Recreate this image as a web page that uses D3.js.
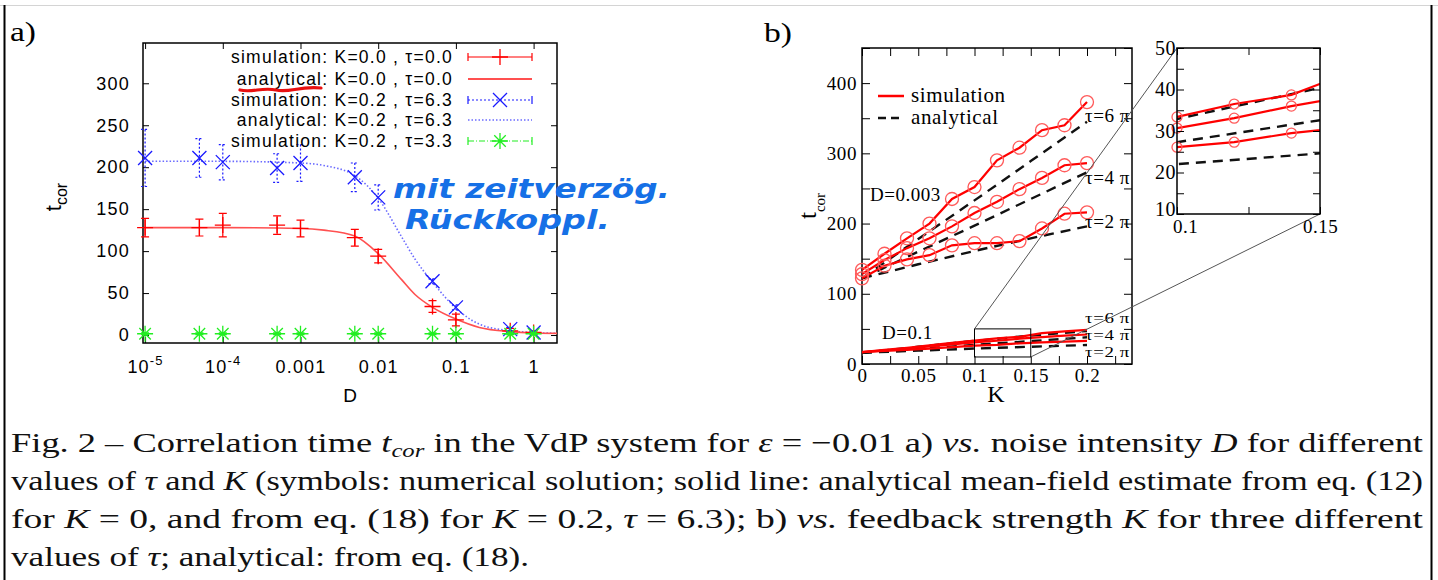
<!DOCTYPE html>
<html>
<head>
<meta charset="utf-8">
<script src="https://cdn.jsdelivr.net/npm/d3@7"></script>
<style>
body { margin: 0; background: #fff; }
</style>
</head>
<body>
<script>
// ---- panel a: t_cor vs noise intensity D ----
var dVals = [1e-5, 5e-5, 1e-4, 5e-4, 0.001, 0.005, 0.01, 0.05, 0.1, 0.5, 1]
var simK0Tau0 = [128, 128, 131, 131, 127, 116, 94, 34, 18, 5, 3]
var simK0Tau0Err = [11, 10, 14, 11, 10, 10, 8, 7, 7, 3, 2]
var simK02Tau63 = [211, 211, 206, 199, 205, 188, 164, 64, 33, 7, 3]
var simK02Tau63Err = [34, 23, 21, 17, 22, 17, 15, 3, 3, 2, 1]
var simK02Tau33 = [1.5, 1.5, 1.5, 1.5, 1.5, 1.5, 1.5, 1.5, 1.5, 1.5, 1.5]
var simK02Tau33Err = [1, 1, 1, 1, 1, 1, 1, 1, 1, 1, 1]

var anaD = [1e-5, 1e-4, 0.001, 0.002, 0.005, 0.01, 0.02, 0.03, 0.05, 0.1, 0.2, 0.5, 1, 2]
var anaK0Tau0 = [128, 128, 127, 125, 118, 97, 66, 48, 33, 19, 9, 4, 2.5, 2]
var anaK02Tau63 = [207, 207, 205, 202, 190, 163, 117, 90, 63, 32, 13, 5, 3, 2]

var xTicksA = [1e-5, 1e-4, 0.001, 0.01, 0.1, 1]
var xLabelsA = ["10^-5", "10^-4", "0.001", "0.01", "0.1", "1"]
var yTicksA = [0, 50, 100, 150, 200, 250, 300]
var legendA = ["simulation: K=0.0 , \u03c4=0.0", "analytical: K=0.0 , \u03c4=0.0",
               "simulation: K=0.2 , \u03c4=6.3", "analytical: K=0.2 , \u03c4=6.3",
               "simulation: K=0.2 , \u03c4=3.3"]

// ---- panel b: t_cor vs feedback strength K ----
var kVals = [0, 0.02, 0.04, 0.06, 0.08, 0.1, 0.12, 0.14, 0.16, 0.18, 0.2]
var simD003Tau6 = [134, 157, 179, 200, 235, 252, 290, 308, 333, 340, 373]
var simD003Tau4 = [128, 148, 165, 179, 196, 215, 231, 249, 265, 283, 286]
var simD003Tau2 = [122, 140, 149, 155, 169, 172, 172, 175, 193, 214, 216]
var simD01Tau6 = [17, 20, 23, 26.5, 30, 33.4, 36.5, 38.7, 44, 46.5, 48.5]
var simD01Tau4 = [17, 19.5, 22, 25, 28, 30.7, 33.1, 36, 38.4, 40.5, 42]
var simD01Tau2 = [17, 18.5, 20, 22, 24, 26.1, 27.3, 29.5, 30.9, 32, 33]

var kAna = [0, 0.05, 0.1, 0.15, 0.2]
var anaD003Tau6 = [122, 178, 233, 289, 345]
var anaD003Tau4 = [122, 160, 197, 235, 273]
var anaD003Tau2 = [122, 142, 161, 179, 196]
var anaD01Tau6 = [16, 24.5, 32.9, 40.4, 47]
var anaD01Tau4 = [16, 21.5, 27.3, 32.6, 38]
var anaD01Tau2 = [16, 19, 22, 24.6, 27]

var tauLabels = ["\u03c4=6 \u03c0", "\u03c4=4 \u03c0", "\u03c4=2 \u03c0"]

var svg = d3.select("body").append("svg")
    .attr("width", 1438)
    .attr("height", 580)

// page frame
svg.append("line").attr("x1", 0).attr("x2", 1438).attr("y1", 5.5).attr("y2", 5.5)
    .attr("stroke", "#d4d4d4").attr("stroke-width", 1)
svg.append("line").attr("x1", 4.5).attr("x2", 4.5).attr("y1", 5).attr("y2", 580)
    .attr("stroke", "#000").attr("stroke-width", 2)
svg.append("line").attr("x1", 1431.5).attr("x2", 1431.5).attr("y1", 5).attr("y2", 580)
    .attr("stroke", "#000").attr("stroke-width", 2)

var serif = "Liberation Serif"
var sans = "Liberation Sans"

var markerPath = function(type, s)
{
    if (type == "plus") return "M" + (-s) + ",0H" + s + "M0," + (-s) + "V" + s
    if (type == "x") return "M" + (-s) + "," + (-s) + "L" + s + "," + s + "M" + (-s) + "," + s + "L" + s + "," + (-s)
    var d = s * 0.72
    return "M" + (-s) + ",0H" + s + "M0," + (-s) + "V" + s +
        "M" + (-d) + "," + (-d) + "L" + d + "," + d + "M" + (-d) + "," + d + "L" + d + "," + (-d)
}

var cleanAxis = function(g, font, size, spacing)
{
    g.select(".domain").remove()
    g.selectAll(".tick line").attr("stroke", "#000").attr("stroke-width", 1)
    g.attr("font-family", font).attr("font-size", size)
    g.selectAll("text").attr("fill", "#000").style("letter-spacing", spacing + "px")
}

// ================= panel a =================
var setupA = function()
{
    var box = {left: 143, top: 43, right: 557, bottom: 343}

    var xScale = d3.scaleLog().domain([9.4e-6, 2]).range([box.left, box.right])
    var yScale = d3.scaleLinear().domain([-9.5, 348]).range([box.bottom, box.top])

    svg.append("text").attr("x", 10).attr("y", 41).attr("textLength", 26).attr("lengthAdjust", "spacingAndGlyphs")
        .attr("font-family", serif).attr("font-size", 28).text("a)")

    var xAxis = d3.axisBottom(xScale).tickValues(xTicksA)
        .tickFormat(function(d, i) { return xLabelsA[i] })
        .tickSizeInner(-6).tickSizeOuter(0).tickPadding(17)
    var gx = svg.append("g").attr("transform", "translate(0," + box.bottom + ")").call(xAxis)
    cleanAxis(gx, sans, 18, 1.2)
    gx.selectAll("text").each(function(d, i)
    {
        var lab = xLabelsA[i]
        if (lab.indexOf("^") >= 0)
        {
            var parts = lab.split("^")
            var t = d3.select(this).text(parts[0])
            t.append("tspan").attr("dy", -8).attr("font-size", 13).text(parts[1])
        }
    })

    var gxt = svg.append("g").attr("transform", "translate(0," + box.top + ")")
        .call(d3.axisTop(xScale).tickValues(xTicksA).tickFormat("").tickSizeInner(-6).tickSizeOuter(0))
    cleanAxis(gxt, sans, 18, 0)

    var gy = svg.append("g").attr("transform", "translate(" + box.left + ",0)")
        .call(d3.axisLeft(yScale).tickValues(yTicksA).tickSizeInner(-6).tickSizeOuter(0).tickPadding(13))
    cleanAxis(gy, sans, 18, 1.2)

    var gyr = svg.append("g").attr("transform", "translate(" + box.right + ",0)")
        .call(d3.axisRight(yScale).tickValues(yTicksA).tickFormat("").tickSizeInner(-6).tickSizeOuter(0))
    cleanAxis(gyr, sans, 18, 0)

    svg.append("rect").attr("x", box.left).attr("y", box.top)
        .attr("width", box.right - box.left).attr("height", box.bottom - box.top)
        .attr("fill", "none").attr("stroke", "#000").attr("stroke-width", 1.5)

    // axis titles
    var yl = svg.append("text").attr("transform", "translate(61,197) rotate(-90)")
        .attr("text-anchor", "middle").attr("font-family", sans).attr("font-size", 22).text("t")
    yl.append("tspan").attr("font-size", 16).attr("dy", 6).text("cor")
    svg.append("text").attr("x", 350).attr("y", 402).attr("text-anchor", "middle")
        .attr("font-family", sans).attr("font-size", 19).text("D")

    var clip = svg.append("clipPath").attr("id", "clipA")
    clip.append("rect").attr("x", box.left).attr("y", box.top)
        .attr("width", box.right - box.left).attr("height", box.bottom - box.top)
    var plot = svg.append("g").attr("clip-path", "url(#clipA)")

    var curve = d3.line()
        .x(function(d) { return xScale(d[0]) })
        .y(function(d) { return yScale(d[1]) })
        .curve(d3.curveMonotoneX)

    plot.append("path").datum(anaD.map(function(d, i) { return [d, anaK02Tau63[i]] }))
        .attr("d", curve).attr("fill", "none").attr("stroke", "#6a6aff")
        .attr("stroke-width", 1.6).attr("stroke-dasharray", "1.5,2")
    plot.append("path").datum(anaD.map(function(d, i) { return [d, anaK0Tau0[i]] }))
        .attr("d", curve).attr("fill", "none").attr("stroke", "#ff5050").attr("stroke-width", 1.6)

    var series = [
        {vals: simK0Tau0, err: simK0Tau0Err, color: "#ff0000", mark: "plus", size: 8, dash: null},
        {vals: simK02Tau63, err: simK02Tau63Err, color: "#1a1aff", mark: "x", size: 7, dash: "2,2"},
        {vals: simK02Tau33, err: simK02Tau33Err, color: "#22ee22", mark: "star", size: 8, dash: null}
    ]
    series.forEach(function(s)
    {
        var g = svg.append("g")
        var pts = dVals.map(function(d, i) { return {x: xScale(d), y: yScale(s.vals[i]), lo: yScale(s.vals[i] - s.err[i]), hi: yScale(s.vals[i] + s.err[i])} })
        g.selectAll("path.err").data(pts).enter().append("path")
            .attr("d", function(p) { return "M" + (p.x - 4) + "," + p.hi + "H" + (p.x + 4) + "M" + p.x + "," + p.hi + "V" + p.lo + "M" + (p.x - 4) + "," + p.lo + "H" + (p.x + 4) })
            .attr("fill", "none").attr("stroke", s.color).attr("stroke-width", 1.2)
            .attr("stroke-dasharray", s.dash)
        g.selectAll("path.mk").data(pts).enter().append("path")
            .attr("transform", function(p) { return "translate(" + p.x + "," + p.y + ")" })
            .attr("d", markerPath(s.mark, s.size))
            .attr("fill", "none").attr("stroke", s.color).attr("stroke-width", 1.3)
    })

    // legend
    var rows = [57, 79, 100, 120, 141]
    var lg = svg.append("g").attr("font-family", sans).attr("font-size", 17.5)
    lg.selectAll("text").data(legendA).enter().append("text")
        .attr("x", 453).attr("y", function(d, i) { return rows[i] + 6 })
        .attr("text-anchor", "end").style("letter-spacing", "1.25px")
        .text(function(d) { return d })

    var sample = function(y, color, dash, caps, mark, size, width)
    {
        lg.append("line").attr("x1", 468).attr("x2", 532).attr("y1", y).attr("y2", y)
            .attr("stroke", color).attr("stroke-width", width).attr("stroke-dasharray", dash)
        if (caps)
        {
            lg.append("path").attr("d", "M468," + (y - 4) + "V" + (y + 4) + "M532," + (y - 4) + "V" + (y + 4))
                .attr("stroke", color).attr("stroke-width", 1.2)
            lg.append("path").attr("transform", "translate(500," + y + ")")
                .attr("d", markerPath(mark, size)).attr("fill", "none")
                .attr("stroke", color).attr("stroke-width", 1.3)
        }
    }
    sample(rows[0], "#ff0000", null, true, "plus", 8, 1.2)
    sample(rows[1], "#ff5050", null, false, null, 0, 1.8)
    sample(rows[2], "#1a1aff", "2,2", true, "x", 7, 1.2)
    sample(rows[3], "#8f8fff", "1.5,2", false, null, 0, 2)
    sample(rows[4], "#22ee22", "6,2,1,2", true, "star", 8, 1.2)

    // handwritten notes on the scan
    svg.append("path").attr("d", "M240,90 C252,93 262,87 276,90 S298,86 321,88")
        .attr("fill", "none").attr("stroke", "#e81010").attr("stroke-width", 3.2)
        .attr("stroke-linecap", "round")
    var note = svg.append("g").attr("font-family", "DejaVu Sans").attr("font-weight", "bold")
        .attr("font-style", "italic").attr("fill", "#1670e6").attr("font-size", 27)
    note.append("text").attr("x", 393).attr("y", 198).attr("textLength", 277)
        .attr("lengthAdjust", "spacingAndGlyphs").text("mit zeitverz\u00f6g.")
    note.append("text").attr("x", 405).attr("y", 229).attr("textLength", 205)
        .attr("lengthAdjust", "spacingAndGlyphs").text("R\u00fcckkoppl.")
}

// ================= panel b =================
var setupB = function()
{
    var box = {left: 862, top: 48, right: 1132, bottom: 364}
    var ibox = {left: 1177, top: 48, right: 1320, bottom: 214}

    var xScale = d3.scaleLinear().domain([0, 0.24]).range([box.left, box.right])
    var yScale = d3.scaleLinear().domain([0, 450]).range([box.bottom, box.top])
    var xIn = d3.scaleLinear().domain([0.1, 0.15]).range([ibox.left, ibox.right])
    var yIn = d3.scaleLinear().domain([10, 50]).range([ibox.bottom, ibox.top])

    svg.append("text").attr("x", 764).attr("y", 42).attr("textLength", 28).attr("lengthAdjust", "spacingAndGlyphs")
        .attr("font-family", serif).attr("font-size", 28).text("b)")

    var kTicks = d3.range(0, 0.23, 0.025)
    var fmtK = function(d) { var r = Math.round(d * 1000); return r % 50 == 0 ? String(r / 1000) : "" }
    var yTicks = d3.range(0, 451, 50)
    var fmtY = function(d) { return d % 100 == 0 ? d : "" }

    var gx = svg.append("g").attr("transform", "translate(0," + box.bottom + ")")
        .call(d3.axisBottom(xScale).tickValues(kTicks).tickFormat(fmtK).tickSizeInner(-8).tickSizeOuter(0).tickPadding(5))
    cleanAxis(gx, serif, 19, 0.6)
    var gxt = svg.append("g").attr("transform", "translate(0," + box.top + ")")
        .call(d3.axisTop(xScale).tickValues(kTicks).tickFormat("").tickSizeInner(-8).tickSizeOuter(0))
    cleanAxis(gxt, serif, 19, 0)
    var gy = svg.append("g").attr("transform", "translate(" + box.left + ",0)")
        .call(d3.axisLeft(yScale).tickValues(yTicks).tickFormat(fmtY).tickSizeInner(-8).tickSizeOuter(0).tickPadding(5))
    cleanAxis(gy, serif, 19, 0.6)
    var gyr = svg.append("g").attr("transform", "translate(" + box.right + ",0)")
        .call(d3.axisRight(yScale).tickValues(yTicks).tickFormat("").tickSizeInner(-8).tickSizeOuter(0))
    cleanAxis(gyr, serif, 19, 0)

    svg.append("rect").attr("x", box.left).attr("y", box.top)
        .attr("width", box.right - box.left).attr("height", box.bottom - box.top)
        .attr("fill", "none").attr("stroke", "#000").attr("stroke-width", 1.5)

    var yl = svg.append("text").attr("transform", "translate(816,206) rotate(-90)")
        .attr("text-anchor", "middle").attr("font-family", serif).attr("font-size", 25).text("t")
    yl.append("tspan").attr("font-size", 15).attr("dy", 9).text("cor")
    svg.append("text").attr("x", 996).attr("y", 402).attr("text-anchor", "middle")
        .attr("font-family", serif).attr("font-size", 24).text("K")

    var simLine = d3.line().x(function(d) { return d[0] }).y(function(d) { return d[1] })

    var drawSet = function(g, xs, ys, kx, vals, opts)
    {
        var pts = kx.map(function(k, i) { return [xs(k), ys(vals[i])] })
        g.append("path").datum(pts).attr("d", simLine).attr("fill", "none")
            .attr("stroke", opts.color).attr("stroke-width", opts.width)
            .attr("stroke-dasharray", opts.dash)
        if (opts.circles)
        {
            var cp = kx.map(function(k, i) { return {k: k, p: pts[i]} })
                .filter(function(c) { return c.k >= opts.kmin - 1e-9 && c.k <= opts.kmax + 1e-9 })
            opts.circleLayer.selectAll(null).data(cp).enter().append("circle")
                .attr("cx", function(c) { return c.p[0] }).attr("cy", function(c) { return c.p[1] })
                .attr("r", opts.r).attr("fill", "none").attr("stroke", "#ff5a5a").attr("stroke-width", 1.3)
        }
    }

    var clip = svg.append("clipPath").attr("id", "clipB")
    clip.append("rect").attr("x", box.left).attr("y", box.top)
        .attr("width", box.right - box.left).attr("height", box.bottom - box.top)
    var plot = svg.append("g").attr("clip-path", "url(#clipB)")
    var circ = svg.append("g")

    var dashed = {color: "#111", width: 2.4, dash: "10,7"}
    var solid = {color: "#ff0000", width: 2.2, dash: null}
    var solidC = {color: "#ff0000", width: 2.2, dash: null, circles: true, kmin: 0, kmax: 0.2, r: 6.5, circleLayer: circ}

    ;[anaD003Tau6, anaD003Tau4, anaD003Tau2, anaD01Tau6, anaD01Tau4, anaD01Tau2].forEach(function(v)
    {
        drawSet(plot, xScale, yScale, kAna, v, dashed)
    })
    ;[simD003Tau6, simD003Tau4, simD003Tau2].forEach(function(v)
    {
        drawSet(plot, xScale, yScale, kVals, v, solidC)
    })
    ;[simD01Tau6, simD01Tau4, simD01Tau2].forEach(function(v)
    {
        drawSet(plot, xScale, yScale, kVals, v, solid)
    })

    // labels inside panel b
    var lab = svg.append("g").attr("font-family", serif).attr("font-size", 19).style("letter-spacing", "0.5px")
    lab.append("text").attr("x", 870).attr("y", 201).text("D=0.003")
    lab.append("text").attr("x", 882).attr("y", 339).text("D=0.1")
    var tauY = [122, 184, 228, 323, 340, 357]
    lab.selectAll("text.tau").data(tauY).enter().append("text")
        .attr("x", 1085).attr("y", function(d) { return d })
        .attr("font-size", function(d, i) { return i < 3 ? 19 : 15.5 })
        .attr("textLength", 45).attr("lengthAdjust", "spacingAndGlyphs")
        .text(function(d, i) { return tauLabels[i % 3] })

    var lg = svg.append("g").attr("font-family", serif).attr("font-size", 21).style("letter-spacing", "0.6px")
    lg.append("line").attr("x1", 878).attr("x2", 904).attr("y1", 96).attr("y2", 96)
        .attr("stroke", "#ff0000").attr("stroke-width", 2.5)
    lg.append("text").attr("x", 911).attr("y", 102).text("simulation")
    lg.append("line").attr("x1", 878).attr("x2", 904).attr("y1", 118).attr("y2", 118)
        .attr("stroke", "#111").attr("stroke-width", 2.5).attr("stroke-dasharray", "8,5")
    lg.append("text").attr("x", 911).attr("y", 124).text("analytical")

    // zoom box and connectors
    svg.append("rect").attr("x", xScale(0.1)).attr("y", yScale(50))
        .attr("width", xScale(0.15) - xScale(0.1)).attr("height", yScale(10) - yScale(50))
        .attr("fill", "none").attr("stroke", "#000").attr("stroke-width", 1)
    svg.append("line").attr("x1", xScale(0.1)).attr("y1", yScale(50)).attr("x2", xIn(0.1)).attr("y2", yIn(50))
        .attr("stroke", "#555").attr("stroke-width", 1)
    svg.append("line").attr("x1", xScale(0.15)).attr("y1", yScale(10)).attr("x2", xIn(0.15)).attr("y2", yIn(10))
        .attr("stroke", "#555").attr("stroke-width", 1)

    // inset
    svg.append("rect").attr("x", ibox.left).attr("y", ibox.top)
        .attr("width", ibox.right - ibox.left).attr("height", ibox.bottom - ibox.top).attr("fill", "#fff")
    var iclip = svg.append("clipPath").attr("id", "clipI")
    iclip.append("rect").attr("x", ibox.left).attr("y", ibox.top)
        .attr("width", ibox.right - ibox.left).attr("height", ibox.bottom - ibox.top)
    var iplot = svg.append("g").attr("clip-path", "url(#clipI)")
    var icirc = svg.append("g")
    var insetC = {color: "#ff0000", width: 2.2, dash: null, circles: true, kmin: 0.1, kmax: 0.15, r: 5, circleLayer: icirc}
    ;[anaD01Tau6, anaD01Tau4, anaD01Tau2].forEach(function(v)
    {
        drawSet(iplot, xIn, yIn, kAna, v, {color: "#111", width: 2.4, dash: "10,7"})
    })
    ;[simD01Tau6, simD01Tau4, simD01Tau2].forEach(function(v)
    {
        drawSet(iplot, xIn, yIn, kVals, v, insetC)
    })

    var iy = d3.range(10, 51, 5)
    var ix = [0.1, 0.125, 0.15]
    var fmtIx = function(d) { return d == 0.125 ? "" : String(d) }
    var gix = svg.append("g").attr("transform", "translate(0," + ibox.bottom + ")")
        .call(d3.axisBottom(xIn).tickValues(ix).tickFormat(fmtIx).tickSizeInner(-7).tickSizeOuter(0).tickPadding(6))
    cleanAxis(gix, serif, 19, 0.5)
    gix.selectAll("text").attr("dx", function(d) { return d == 0.1 ? 8 : 0 })
    var gixt = svg.append("g").attr("transform", "translate(0," + ibox.top + ")")
        .call(d3.axisTop(xIn).tickValues(ix).tickFormat("").tickSizeInner(-7).tickSizeOuter(0))
    cleanAxis(gixt, serif, 19, 0)
    var giy = svg.append("g").attr("transform", "translate(" + ibox.left + ",0)")
        .call(d3.axisLeft(yIn).tickValues(iy).tickFormat(function(d) { return d % 10 == 0 ? d : "" })
            .tickSizeInner(-7).tickSizeOuter(0).tickPadding(1))
    cleanAxis(giy, serif, 20, 0.5)
    giy.selectAll("text").attr("dy", function(d) { return d == 10 ? "0.05em" : "0.32em" })
    var giyr = svg.append("g").attr("transform", "translate(" + ibox.right + ",0)")
        .call(d3.axisRight(yIn).tickValues(iy).tickFormat("").tickSizeInner(-7).tickSizeOuter(0))
    cleanAxis(giyr, serif, 19, 0)
    svg.append("rect").attr("x", ibox.left).attr("y", ibox.top)
        .attr("width", ibox.right - ibox.left).attr("height", ibox.bottom - ibox.top)
        .attr("fill", "none").attr("stroke", "#000").attr("stroke-width", 1.5)
}

// ================= caption =================
var captionLines = [
    [["Fig. 2 \u2013 Correlation time ", ""], ["t", "i"], ["cor", "s"], [" in the VdP system for ", ""], ["\u03b5", "i"],
     [" = \u22120.01 a) ", ""], ["vs.", "i"], [" noise intensity ", ""], ["D", "i"], [" for different", ""]],
    [["values of ", ""], ["\u03c4", "i"], [" and ", ""], ["K", "i"],
     [" (symbols: numerical solution; solid line: analytical mean-field estimate from eq. (12)", ""]],
    [["for ", ""], ["K", "i"], [" = 0, and from eq. (18) for ", ""], ["K", "i"], [" = 0.2, ", ""], ["\u03c4", "i"],
     [" = 6.3); b) ", ""], ["vs.", "i"], [" feedback strength ", ""], ["K", "i"], [" for three different", ""]],
    [["values of ", ""], ["\u03c4", "i"], ["; analytical: from eq. (18).", ""]]
]
var captionY = [452, 490, 528, 566]
var captionWidth = [1412, 1412, 1412, 518]

var drawCaption = function()
{
    captionLines.forEach(function(line, li)
    {
        var t = svg.append("text").attr("x", 11).attr("y", captionY[li])
            .attr("font-family", serif).attr("font-size", 28).attr("fill", "#111")
            .attr("textLength", captionWidth[li]).attr("lengthAdjust", "spacingAndGlyphs")
        var shifted = false
        line.forEach(function(seg)
        {
            var ts = t.append("tspan").text(seg[0])
            if (seg[1] == "i") ts.attr("font-style", "italic")
            if (seg[1] == "s")
            {
                ts.attr("font-style", "italic").attr("font-size", 19).attr("dy", 5)
                shifted = true
            }
            else if (shifted)
            {
                ts.attr("dy", -5)
                shifted = false
            }
        })
    })
}

setupA()
setupB()
drawCaption()
</script>
</body>
</html>
